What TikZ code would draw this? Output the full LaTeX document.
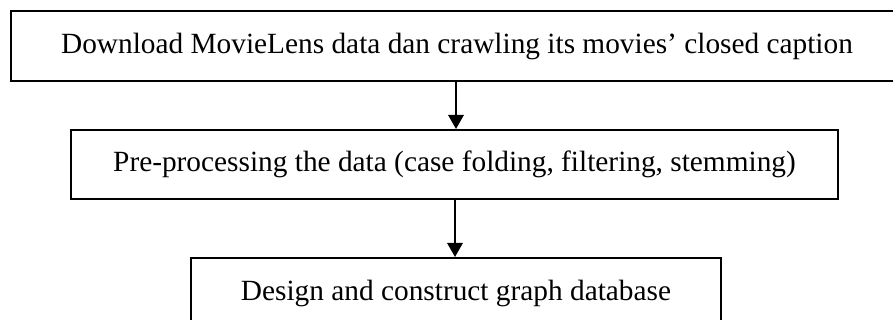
\documentclass[tikz,border=0pt]{standalone}
\usepackage{fontspec}
\setmainfont{Liberation Serif}
\usetikzlibrary{arrows.meta}

\tikzset{
  stepbox/.style={draw, line width=1.5pt, inner sep=0pt, align=center,
    font=\fontsize{22}{26}\selectfont},
  flow/.style={line width=1.5pt, -{Triangle[width=11.5pt,length=10.5pt]}}
}

\begin{document}
\begin{tikzpicture}[x=0.75pt, y=-0.75pt]
  \useasboundingbox (0,0) rectangle (893,320);

  % three process steps, top to bottom
  \node[stepbox, minimum width=892*0.75pt, minimum height=70*0.75pt]
    (dl) at (457,46) {Download MovieLens data dan crawling its movies’ closed caption};
  \node[stepbox, minimum width=767*0.75pt, minimum height=69*0.75pt]
    (pre) at (454.5,164.5) {Pre-processing the data (case folding, filtering, stemming)};
  \node[stepbox, minimum width=530*0.75pt, minimum height=70*0.75pt]
    (db) at (456,293) {Design and construct graph database};

  % connectors between the steps
  \draw[flow] (dl.south -| 456,0) -- (pre.north -| 456,0);
  \draw[flow] (pre.south -| 455,0) -- (db.north -| 455,0);
\end{tikzpicture}
\end{document}
